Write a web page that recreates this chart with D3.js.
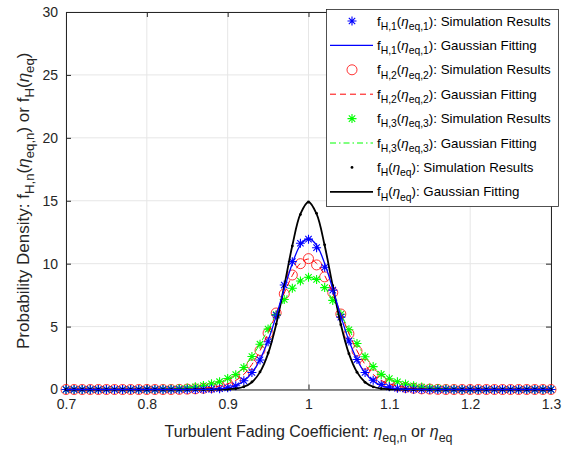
<!DOCTYPE html>
<html>
<head>
<meta charset="utf-8">
<script src="https://cdn.jsdelivr.net/npm/d3@7"></script>
<style>
  body { margin: 0; background: #fff; }
  svg { display: block; font-family: "Liberation Sans", Arial, Helvetica, sans-serif; }
</style>
</head>
<body>
<div id="canvas"></div>
<script>
// eta grid, 0.70 .. 1.30 in steps of 0.01
const eta = [
  0.70, 0.71, 0.72, 0.73, 0.74, 0.75, 0.76, 0.77, 0.78, 0.79,
  0.80, 0.81, 0.82, 0.83, 0.84, 0.85, 0.86, 0.87, 0.88, 0.89,
  0.90, 0.91, 0.92, 0.93, 0.94, 0.95, 0.96, 0.97, 0.98, 0.99,
  1.00,
  1.01, 1.02, 1.03, 1.04, 1.05, 1.06, 1.07, 1.08, 1.09, 1.10,
  1.11, 1.12, 1.13, 1.14, 1.15, 1.16, 1.17, 1.18, 1.19, 1.20,
  1.21, 1.22, 1.23, 1.24, 1.25, 1.26, 1.27, 1.28, 1.29, 1.30
];

// f_H,1 (blue)
const sim1 = [
  0, 0, 0, 0, 0, 0, 0, 0, 0, 0,
  0, 0, 0, 0, 0, 0, 0, 0.01, 0.03, 0.06,
  0.13, 0.3, 0.7, 1.35, 2.35, 3.8, 5.9, 8.3, 10.16, 11.62,
  11.95,
  11.27, 9.71, 7.9, 5.75, 3.85, 2.38, 1.35, 0.74, 0.41, 0.21,
  0.1, 0.05, 0.02, 0.01, 0, 0, 0, 0, 0, 0,
  0, 0, 0, 0, 0, 0, 0, 0, 0, 0
];
const fit1 = [
  0, 0, 0, 0, 0, 0, 0, 0, 0, 0,
  0, 0, 0, 0, 0, 0, 0, 0.01, 0.02, 0.05,
  0.13, 0.31, 0.67, 1.32, 2.37, 3.89, 5.83, 8.0, 10.02, 11.47,
  12.0,
  11.47, 10.02, 8.0, 5.83, 3.89, 2.37, 1.32, 0.67, 0.31, 0.13,
  0.05, 0.02, 0.01, 0, 0, 0, 0, 0, 0, 0,
  0, 0, 0, 0, 0, 0, 0, 0, 0, 0
];

// f_H,2 (red)
const sim2 = [
  0, 0, 0, 0, 0, 0, 0, 0, 0, 0,
  0, 0, 0, 0, 0.01, 0.03, 0.05, 0.1, 0.17, 0.28,
  0.45, 0.72, 1.22, 1.97, 3.1, 4.48, 6.08, 7.6, 9.1, 10.0,
  10.4,
  9.9, 8.95, 7.7, 6.0, 4.43, 3.05, 2.0, 1.18, 0.7, 0.44,
  0.27, 0.17, 0.1, 0.05, 0.03, 0.01, 0, 0, 0, 0,
  0, 0, 0, 0, 0, 0, 0, 0, 0, 0
];
const fit2 = [
  0, 0, 0, 0, 0, 0, 0, 0, 0, 0,
  0, 0, 0, 0, 0.01, 0.03, 0.05, 0.1, 0.17, 0.28,
  0.45, 0.72, 1.2, 1.99, 3.08, 4.46, 6.04, 7.66, 9.06, 10.03,
  10.37,
  10.03, 9.06, 7.66, 6.04, 4.46, 3.08, 1.99, 1.2, 0.72, 0.45,
  0.28, 0.17, 0.1, 0.05, 0.03, 0.01, 0, 0, 0, 0,
  0, 0, 0, 0, 0, 0, 0, 0, 0, 0
];

// f_H,3 (green)
const sim3 = [
  0, 0, 0, 0, 0, 0, 0, 0, 0, 0,
  0, 0, 0.02, 0.04, 0.07, 0.12, 0.21, 0.32, 0.45, 0.62,
  0.88, 1.18, 1.75, 2.62, 3.6, 4.8, 5.95, 7.15, 8.05, 8.62,
  8.92,
  8.75, 8.1, 7.08, 5.98, 4.75, 3.65, 2.6, 1.82, 1.2, 0.86,
  0.61, 0.43, 0.3, 0.2, 0.12, 0.07, 0.04, 0.02, 0, 0,
  0, 0, 0, 0, 0, 0, 0, 0, 0, 0
];
const fit3 = [
  0, 0, 0, 0, 0, 0, 0, 0, 0, 0,
  0, 0, 0.02, 0.04, 0.07, 0.12, 0.2, 0.3, 0.43, 0.6,
  0.85, 1.2, 1.8, 2.62, 3.62, 4.77, 5.98, 7.12, 8.07, 8.7,
  8.92,
  8.7, 8.07, 7.12, 5.98, 4.77, 3.62, 2.62, 1.8, 1.2, 0.85,
  0.6, 0.43, 0.3, 0.2, 0.12, 0.07, 0.04, 0.02, 0, 0,
  0, 0, 0, 0, 0, 0, 0, 0, 0, 0
];

// f_H (black)
const simH = [
  0, 0, 0, 0, 0, 0, 0, 0, 0, 0,
  0, 0, 0, 0, 0, 0, 0, 0, 0, 0.01,
  0.02, 0.07, 0.22, 0.6, 1.4, 2.9, 5.2, 8.2, 11.4, 13.9,
  14.9,
  14.0, 11.5, 8.25, 5.15, 2.85, 1.37, 0.57, 0.21, 0.07, 0.02,
  0.01, 0, 0, 0, 0, 0, 0, 0, 0, 0,
  0, 0, 0, 0, 0, 0, 0, 0, 0, 0
];
const fitH = [
  0, 0, 0, 0, 0, 0, 0, 0, 0, 0,
  0, 0, 0, 0, 0, 0, 0, 0, 0, 0.01,
  0.02, 0.07, 0.22, 0.58, 1.38, 2.85, 5.17, 8.22, 11.44, 13.95,
  14.9,
  13.95, 11.44, 8.22, 5.17, 2.85, 1.38, 0.58, 0.22, 0.07, 0.02,
  0.01, 0, 0, 0, 0, 0, 0, 0, 0, 0,
  0, 0, 0, 0, 0, 0, 0, 0, 0, 0
];

const xTicks = [0.7, 0.8, 0.9, 1.0, 1.1, 1.2, 1.3];
const yTicks = [0, 5, 10, 15, 20, 25, 30];

const width = 566, height = 449;
const axisColor = "#262626";

const svg = d3.select("#canvas").append("svg")
  .attr("width", width)
  .attr("height", height);

const x = d3.scaleLinear().domain([0.7, 1.3]).range([66, 551]);
const y = d3.scaleLinear().domain([0, 30]).range([389.5, 12]);

// grid
const grid = svg.append("g").attr("class", "grid");
grid.selectAll("line.gx").data(xTicks).enter().append("line")
  .attr("x1", d => x(d)).attr("x2", d => x(d))
  .attr("y1", y(0)).attr("y2", y(30))
  .attr("stroke", "#e6e6e6").attr("stroke-width", 1);
grid.selectAll("line.gy").data(yTicks).enter().append("line")
  .attr("y1", d => y(d)).attr("y2", d => y(d))
  .attr("x1", x(0.7)).attr("x2", x(1.3))
  .attr("stroke", "#e6e6e6").attr("stroke-width", 1);

// axes, ticks pointing inward
const styleAxis = (g) => {
  g.select(".domain").attr("stroke", axisColor);
  g.selectAll(".tick line").attr("stroke", axisColor);
  g.selectAll("text").attr("fill", axisColor).attr("font-size", 14)
    .attr("font-family", "Liberation Sans, Arial, sans-serif");
};
const fmt = d3.format("~g");

svg.append("g").attr("transform", `translate(0,${y(0)})`)
  .call(d3.axisBottom(x).tickValues(xTicks).tickFormat(fmt)
    .tickSizeInner(-5).tickSizeOuter(0).tickPadding(10))
  .call(styleAxis);
svg.append("g").attr("transform", `translate(0,${y(30)})`)
  .call(d3.axisTop(x).tickValues(xTicks).tickFormat("")
    .tickSizeInner(-5).tickSizeOuter(0))
  .call(styleAxis);
svg.append("g").attr("transform", `translate(${x(0.7)},0)`)
  .call(d3.axisLeft(y).tickValues(yTicks).tickFormat(fmt)
    .tickSizeInner(-5).tickSizeOuter(0).tickPadding(8))
  .call(styleAxis);
svg.append("g").attr("transform", `translate(${x(1.3)},0)`)
  .call(d3.axisRight(y).tickValues(yTicks).tickFormat("")
    .tickSizeInner(-5).tickSizeOuter(0))
  .call(styleAxis);

// marker shapes
const star = "M-4.5,0L4.5,0M0,-4.5L0,4.5M-3.2,-3.2L3.2,3.2M-3.2,3.2L3.2,-3.2";

const series = [
  { vals: sim2, kind: "circle", color: "#ff0000" },
  { vals: sim3, kind: "star", color: "#00ff00" },
  { vals: sim1, kind: "star", color: "#0000ff" },
  { vals: simH, kind: "dot", color: "#000" }
];
const fits = [
  { vals: fit2, color: "#ff0000", dash: "6,4", w: 1 },
  { vals: fit3, color: "#00ff00", dash: "6,3,1.5,3", w: 1 },
  { vals: fitH, color: "#000", dash: null, w: 1.8 },
  { vals: fit1, color: "#0000ff", dash: null, w: 1.3 }
];

const drawMarkers = (g, s, px, py) => {
  if (s.kind === "circle") {
    g.append("circle").attr("cx", px).attr("cy", py).attr("r", 5)
      .attr("fill", "none").attr("stroke", s.color).attr("stroke-width", 0.8);
  } else if (s.kind === "star") {
    g.append("path").attr("d", star).attr("transform", `translate(${px},${py})`)
      .attr("fill", "none").attr("stroke", s.color).attr("stroke-width", 1.1);
  } else {
    g.append("circle").attr("cx", px).attr("cy", py).attr("r", 1.4)
      .attr("fill", s.color);
  }
};

const plot = svg.append("g").attr("class", "plot");
series.forEach(s => {
  const g = plot.append("g");
  s.vals.forEach((v, i) => drawMarkers(g, s, x(eta[i]), y(v)));
});

const line = d3.line()
  .x((d, i) => x(eta[i]))
  .y(d => y(d))
  .curve(d3.curveCatmullRom);

fits.forEach(f => {
  plot.append("path").datum(f.vals)
    .attr("d", line)
    .attr("fill", "none")
    .attr("stroke", f.color)
    .attr("stroke-width", f.w)
    .attr("stroke-dasharray", f.dash);
});

// text with sub-scripts
const rich = (sel, parts, size) => {
  let inSub = false;
  parts.forEach(p => {
    const ts = sel.append("tspan").text(p.t);
    if (p.sub) {
      ts.attr("font-size", size * 0.78);
      if (!inSub) ts.attr("dy", size * 0.32);
    } else if (inSub) {
      ts.attr("dy", -size * 0.32);
    }
    if (p.it) ts.attr("font-style", "italic");
    inSub = !!p.sub;
  });
};

// legend
const legendLabels = [
  [{t:"f"},{t:"H,1",sub:1},{t:"("},{t:"\u03B7",it:1},{t:"eq,1",sub:1},{t:"): Simulation Results"}],
  [{t:"f"},{t:"H,1",sub:1},{t:"("},{t:"\u03B7",it:1},{t:"eq,1",sub:1},{t:"): Gaussian Fitting"}],
  [{t:"f"},{t:"H,2",sub:1},{t:"("},{t:"\u03B7",it:1},{t:"eq,2",sub:1},{t:"): Simulation Results"}],
  [{t:"f"},{t:"H,2",sub:1},{t:"("},{t:"\u03B7",it:1},{t:"eq,2",sub:1},{t:"): Gaussian Fitting"}],
  [{t:"f"},{t:"H,3",sub:1},{t:"("},{t:"\u03B7",it:1},{t:"eq,3",sub:1},{t:"): Simulation Results"}],
  [{t:"f"},{t:"H,3",sub:1},{t:"("},{t:"\u03B7",it:1},{t:"eq,3",sub:1},{t:"): Gaussian Fitting"}],
  [{t:"f"},{t:"H",sub:1},{t:"("},{t:"\u03B7",it:1},{t:"eq",sub:1},{t:"): Simulation Results"}],
  [{t:"f"},{t:"H",sub:1},{t:"("},{t:"\u03B7",it:1},{t:"eq",sub:1},{t:"): Gaussian Fitting"}]
];
const legendKeys = [
  { kind: "star", color: "#0000ff" },
  { line: true, color: "#0000ff", dash: null, w: 1.3 },
  { kind: "circle", color: "#ff0000" },
  { line: true, color: "#ff0000", dash: "6,4", w: 1 },
  { kind: "star", color: "#00ff00" },
  { line: true, color: "#00ff00", dash: "6,3,1.5,3", w: 1 },
  { kind: "dot", color: "#000" },
  { line: true, color: "#000", dash: null, w: 1.8 }
];

const lg = svg.append("g").attr("class", "legend");
lg.append("rect").attr("x", 326.5).attr("y", 9.5).attr("width", 232).attr("height", 197)
  .attr("fill", "#fff").attr("stroke", axisColor).attr("stroke-width", 0.8);

legendKeys.forEach((k, i) => {
  const ry = 21 + i * 24.4;
  if (k.line) {
    lg.append("line").attr("x1", 330).attr("x2", 373).attr("y1", ry).attr("y2", ry)
      .attr("stroke", k.color).attr("stroke-width", k.w).attr("stroke-dasharray", k.dash);
  } else {
    drawMarkers(lg, k, 352, ry);
  }
  const t = lg.append("text").attr("x", 377).attr("y", ry + 4.5)
    .attr("font-size", 13.3).attr("fill", "#000");
  rich(t, legendLabels[i], 13.3);
});

// axis labels
const xl = svg.append("text").attr("x", (x(0.7) + x(1.3)) / 2).attr("y", 437)
  .attr("text-anchor", "middle").attr("font-size", 16).attr("fill", axisColor);
rich(xl, [{t:"Turbulent Fading Coefficient: "},{t:"\u03B7",it:1},{t:"eq,n",sub:1},
  {t:" or "},{t:"\u03B7",it:1},{t:"eq",sub:1}], 16);

const yl = svg.append("text")
  .attr("transform", `translate(29,${(y(0) + y(30)) / 2}) rotate(-90)`)
  .attr("text-anchor", "middle").attr("font-size", 17).attr("fill", axisColor);
rich(yl, [{t:"Probability Density: f"},{t:"H,n",sub:1},{t:"("},{t:"\u03B7",it:1},
  {t:"eq,n",sub:1},{t:") or f"},{t:"H",sub:1},{t:"("},{t:"\u03B7",it:1},{t:"eq",sub:1},{t:")"}], 17);
</script>
</body>
</html>
